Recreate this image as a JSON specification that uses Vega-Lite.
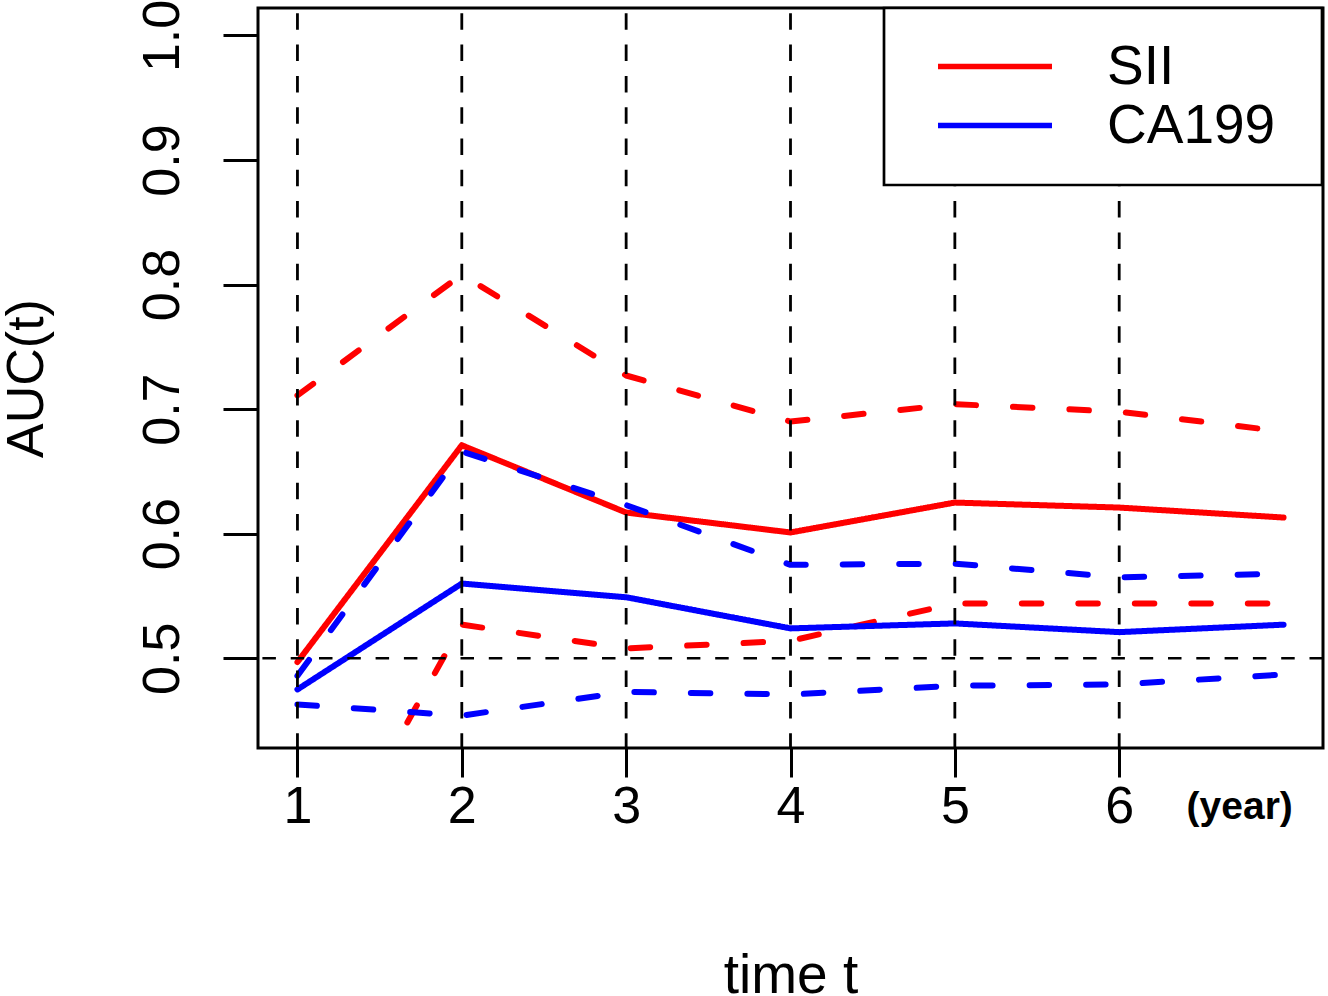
{
  "$schema": "https://vega.github.io/schema/vega-lite/v6.json",
  "width": 1065,
  "height": 740,
  "autosize": {"type": "none"},
  "padding": {"left": 258, "top": 8, "right": 5, "bottom": 248},
  "background": "white",
  "config": {
    "font": "Liberation Sans",
    "view": {"stroke": "black", "strokeWidth": 3},
    "legend": {"strokeWidth": 2.7}
  },
  "datasets": {
    "auc": [
      {"marker": "SII", "kind": "AUC", "t": 1, "auc": 0.497},
      {"marker": "SII", "kind": "AUC", "t": 2, "auc": 0.671},
      {"marker": "SII", "kind": "AUC", "t": 3, "auc": 0.617},
      {"marker": "SII", "kind": "AUC", "t": 4, "auc": 0.601},
      {"marker": "SII", "kind": "AUC", "t": 5, "auc": 0.625},
      {"marker": "SII", "kind": "AUC", "t": 6, "auc": 0.621},
      {"marker": "SII", "kind": "AUC", "t": 7, "auc": 0.613},
      {"marker": "SII", "kind": "upper", "t": 1, "auc": 0.711},
      {"marker": "SII", "kind": "upper", "t": 2, "auc": 0.808},
      {"marker": "SII", "kind": "upper", "t": 3, "auc": 0.727},
      {"marker": "SII", "kind": "upper", "t": 4, "auc": 0.690},
      {"marker": "SII", "kind": "upper", "t": 5, "auc": 0.704},
      {"marker": "SII", "kind": "upper", "t": 6, "auc": 0.698},
      {"marker": "SII", "kind": "upper", "t": 7, "auc": 0.682},
      {"marker": "SII", "kind": "lower", "t": 1, "auc": 0.290},
      {"marker": "SII", "kind": "lower", "t": 2, "auc": 0.527},
      {"marker": "SII", "kind": "lower", "t": 3, "auc": 0.508},
      {"marker": "SII", "kind": "lower", "t": 4, "auc": 0.514},
      {"marker": "SII", "kind": "lower", "t": 5, "auc": 0.544},
      {"marker": "SII", "kind": "lower", "t": 6, "auc": 0.544},
      {"marker": "SII", "kind": "lower", "t": 7, "auc": 0.544},
      {"marker": "CA199", "kind": "AUC", "t": 1, "auc": 0.475},
      {"marker": "CA199", "kind": "AUC", "t": 2, "auc": 0.560},
      {"marker": "CA199", "kind": "AUC", "t": 3, "auc": 0.549},
      {"marker": "CA199", "kind": "AUC", "t": 4, "auc": 0.524},
      {"marker": "CA199", "kind": "AUC", "t": 5, "auc": 0.528},
      {"marker": "CA199", "kind": "AUC", "t": 6, "auc": 0.521},
      {"marker": "CA199", "kind": "AUC", "t": 7, "auc": 0.527},
      {"marker": "CA199", "kind": "upper", "t": 1, "auc": 0.486},
      {"marker": "CA199", "kind": "upper", "t": 2, "auc": 0.666},
      {"marker": "CA199", "kind": "upper", "t": 3, "auc": 0.623},
      {"marker": "CA199", "kind": "upper", "t": 4, "auc": 0.575},
      {"marker": "CA199", "kind": "upper", "t": 5, "auc": 0.576},
      {"marker": "CA199", "kind": "upper", "t": 6, "auc": 0.565},
      {"marker": "CA199", "kind": "upper", "t": 7, "auc": 0.568},
      {"marker": "CA199", "kind": "lower", "t": 1, "auc": 0.463},
      {"marker": "CA199", "kind": "lower", "t": 2, "auc": 0.454},
      {"marker": "CA199", "kind": "lower", "t": 3, "auc": 0.473},
      {"marker": "CA199", "kind": "lower", "t": 4, "auc": 0.471},
      {"marker": "CA199", "kind": "lower", "t": 5, "auc": 0.478},
      {"marker": "CA199", "kind": "lower", "t": 6, "auc": 0.479},
      {"marker": "CA199", "kind": "lower", "t": 7, "auc": 0.487}
    ]
  },
  "layer": [
    {
      "data": {"name": "auc"},
      "mark": {"type": "line", "clip": true, "strokeWidth": 6, "strokeCap": "round", "strokeJoin": "round"},
      "encoding": {
        "x": {
          "field": "t", "type": "quantitative",
          "scale": {"domain": [0.76, 7.24], "nice": false, "zero": false},
          "axis": {
            "title": "time t", "titleFontSize": 55, "titleFontWeight": "normal", "titleColor": "black",
            "titleX": 532.5, "titleY": 244, "titleBaseline": "alphabetic", "titleAlign": "center",
            "values": [1, 2, 3, 4, 5, 6, 6.73], "format": "d",
            "labelExpr": "datum.value > 6.5 ? '(year)' : datum.label",
            "labelFontSize": {"condition": {"test": "datum.value > 6.5", "value": 39}, "value": 52},
            "labelFontWeight": {"condition": {"test": "datum.value > 6.5", "value": "bold"}, "value": "normal"},
            "labelPadding": {"condition": {"test": "datum.value > 6.5", "value": 41}, "value": 45},
            "tickOpacity": {"condition": {"test": "datum.value > 6.5", "value": 0}, "value": 1},
            "labelBaseline": "alphabetic", "labelAlign": "center", "labelColor": "black",
            "labelFlush": false, "labelOverlap": false,
            "tickSize": 29, "tickWidth": 3, "tickColor": "black", "domain": false, "grid": false
          }
        },
        "y": {
          "field": "auc", "type": "quantitative",
          "scale": {"domain": [0.428, 1.022], "nice": false, "zero": false},
          "axis": {
            "title": "AUC(t)", "titleFontSize": 52, "titleFontWeight": "normal", "titleColor": "black",
            "titleAngle": 270, "titleX": -216, "titleY": 370, "titleBaseline": "alphabetic", "titleAlign": "center",
            "values": [0.5, 0.6, 0.7, 0.8, 0.9, 1.0], "format": ".1f",
            "labelAngle": 270, "labelAlign": "center", "labelBaseline": "alphabetic",
            "labelFontSize": 52, "labelPadding": 45, "labelColor": "black",
            "labelFlush": false, "labelOverlap": false,
            "tickSize": 35, "tickWidth": 3, "tickColor": "black", "domain": false, "grid": false
          }
        },
        "color": {
          "field": "marker", "type": "nominal",
          "scale": {"domain": ["SII", "CA199"], "range": ["#ff0000", "#0000ff"]},
          "legend": {
            "title": null, "orient": "none", "legendX": 626, "legendY": 0,
            "symbolType": "M-4,0H4M20,0", "symbolSize": 812, "symbolStrokeWidth": 5.5, "symbolOffset": 52.5,
            "labelFontSize": 55, "labelOffset": 84.5, "labelColor": "black", "labelLimit": 0,
            "rowPadding": 3, "padding": 31,
            "strokeColor": "black", "fillColor": "white"
          }
        },
        "strokeDash": {
          "field": "kind", "type": "nominal",
          "scale": {"domain": ["AUC", "upper", "lower"], "range": [[1, 0], [19.5, 37], [19.5, 37]]},
          "legend": null
        },
        "detail": {"field": "kind", "type": "nominal"}
      }
    },
    {
      "data": {"values": [{"t": 1}, {"t": 2}, {"t": 3}, {"t": 4}, {"t": 5}, {"t": 6}]},
      "mark": {"type": "rule", "color": "black", "strokeWidth": 2.8, "strokeDash": [16.5, 14.8], "strokeDashOffset": 26},
      "encoding": {"x": {"field": "t", "type": "quantitative"}}
    },
    {
      "data": {"values": [{"auc": 0.5}]},
      "mark": {"type": "rule", "color": "black", "strokeWidth": 2.5, "strokeDash": [13.5, 14.8]},
      "encoding": {"y": {"field": "auc", "type": "quantitative"}}
    }
  ]
}
